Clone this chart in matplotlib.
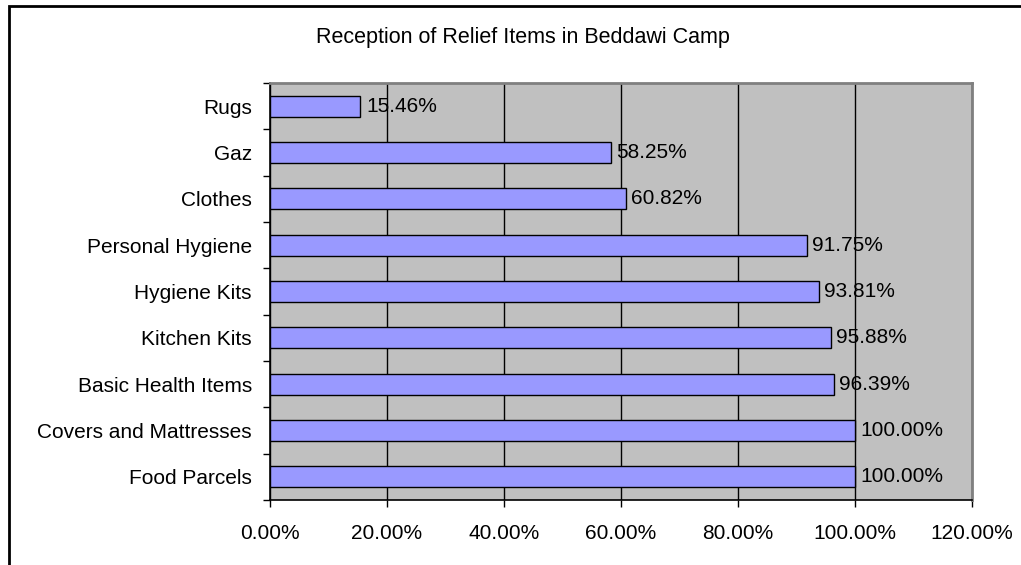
import matplotlib.pyplot as plt
import numpy as np
from matplotlib.patches import Rectangle
from matplotlib.ticker import FixedLocator, NullFormatter

# Reception of relief items (percent of households)
items = ['Food Parcels', 'Covers and Mattresses', 'Basic Health Items', 'Kitchen Kits',
         'Hygiene Kits', 'Personal Hygiene', 'Clothes', 'Gaz', 'Rugs']
percent = [100.00, 100.00, 96.39, 95.88, 93.81, 91.75, 60.82, 58.25, 15.46]
x_ticks = [0, 20, 40, 60, 80, 100, 120]

plt.rcParams['font.family'] = ['Liberation Sans', 'DejaVu Sans']

fig = plt.figure(figsize=(10.21, 5.65), dpi=100)
W, H = 1021, 565
ax = fig.add_axes([270 / W, 1 - 500 / H, (972 - 270) / W, (500 - 83) / H])

# outer chart border (only top and left visible in the crop)
fig.patches.append(Rectangle((9 / W, -0.1), 1.2, 1 - 6 / H + 0.1, transform=fig.transFigure,
                             fill=False, edgecolor='black', linewidth=2))

pos = np.arange(len(items))
ax.set_facecolor('#C0C0C0')
ax.barh(pos, percent, height=0.46, color='#9999FF', edgecolor='black', linewidth=1, zorder=3)
for p, v in zip(pos, percent):
    ax.annotate(f'{v:.2f}%', (v, p), xytext=(4, 0), textcoords='offset points',
                va='center', ha='left', fontsize=15, zorder=4)

ax.set_xlim(0, 120)
ax.set_ylim(-0.5, len(items) - 0.5)
ax.set_xticks(x_ticks)
ax.set_xticklabels([f'{t:.2f}%' for t in x_ticks], fontsize=15)
ax.set_yticks(pos)
ax.set_yticklabels(items, fontsize=15)
ax.tick_params(axis='y', which='major', length=0, pad=13)
ax.yaxis.set_minor_locator(FixedLocator(np.arange(-0.5, len(items), 1)))
ax.yaxis.set_minor_formatter(NullFormatter())
ax.tick_params(axis='y', which='minor', length=5, width=1, direction='out')
ax.tick_params(axis='x', length=5, width=1, direction='out', pad=12)

ax.grid(axis='x', color='black', linewidth=1, zorder=1)
ax.set_axisbelow(True)
for s in ['top', 'right']:
    ax.spines[s].set_color('#808080')
    ax.spines[s].set_linewidth(2)
ax.spines['left'].set_linewidth(1.2)
ax.spines['bottom'].set_linewidth(1.2)

fig.text(523 / W, 1 - 38 / H, 'Reception of Relief Items in Beddawi Camp',
         ha='center', va='center', fontsize=15.5)

fig.savefig('out.png', dpi=100)
